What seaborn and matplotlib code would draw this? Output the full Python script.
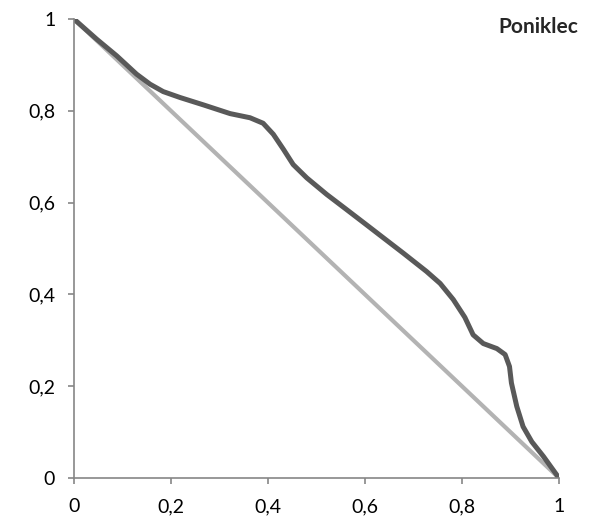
import matplotlib
matplotlib.use("Agg")
import matplotlib.pyplot as plt
import pandas as pd
import seaborn as sns

# Data
curve_x = [0.0, 0.047, 0.088, 0.129, 0.157, 0.184, 0.219, 0.267, 0.322, 0.363,
           0.390, 0.411, 0.432, 0.452, 0.480, 0.521, 0.562, 0.604, 0.631, 0.679,
           0.727, 0.755, 0.782, 0.806, 0.823, 0.844, 0.872, 0.889, 0.898, 0.902,
           0.913, 0.926, 0.944, 0.968, 1.0]
curve_y = [1.0, 0.956, 0.920, 0.880, 0.858, 0.842, 0.829, 0.813, 0.794, 0.785,
           0.773, 0.749, 0.716, 0.683, 0.654, 0.618, 0.585, 0.551, 0.529, 0.490,
           0.450, 0.424, 0.389, 0.350, 0.312, 0.293, 0.282, 0.269, 0.243, 0.207,
           0.156, 0.112, 0.079, 0.047, 0.0]
diag_x = [0.0, 1.0]
diag_y = [1.0, 0.0]
ticks = [0, 0.2, 0.4, 0.6, 0.8, 1]
tick_labels = ["0", "0,2", "0,4", "0,6", "0,8", "1"]
title = "Poniklec"

sns.set_style("white")
plt.rcParams["font.family"] = ["Lato", "DejaVu Sans"]

df_curve = pd.DataFrame({"x": curve_x, "y": curve_y})
df_diag = pd.DataFrame({"x": diag_x, "y": diag_y})

fig = plt.figure(figsize=(5.89, 5.30), dpi=100)
ax = fig.add_axes([0.1256, 0.0981, 0.8234, 0.8659])

sns.lineplot(data=df_diag, x="x", y="y", color="#b3b3b3", linewidth=3, sort=False, ax=ax)
sns.lineplot(data=df_curve, x="x", y="y", color="#595959", linewidth=3.6, sort=False, ax=ax,
             solid_joinstyle="round", solid_capstyle="round")

ax.set_xlim(0, 1)
ax.set_ylim(0, 1)
ax.set_xticks(ticks)
ax.set_xticklabels(tick_labels)
ax.set_yticks(ticks)
ax.set_yticklabels(tick_labels)
ax.set_xlabel("")
ax.set_ylabel("")

for side in ["top", "right"]:
    ax.spines[side].set_visible(False)
for side in ["left", "bottom"]:
    ax.spines[side].set_color("#868686")
    ax.spines[side].set_linewidth(1.2)
ax.tick_params(axis="both", direction="out", length=4.5, width=1.2, color="#868686",
               labelsize=14, labelcolor="black", bottom=True, left=True)
ax.tick_params(axis="x", pad=10)
ax.tick_params(axis="y", pad=9)

fig.text(0.981, 0.949, title, ha="right", va="center", fontsize=15, fontweight="bold")

fig.savefig("out.png", dpi=100)
